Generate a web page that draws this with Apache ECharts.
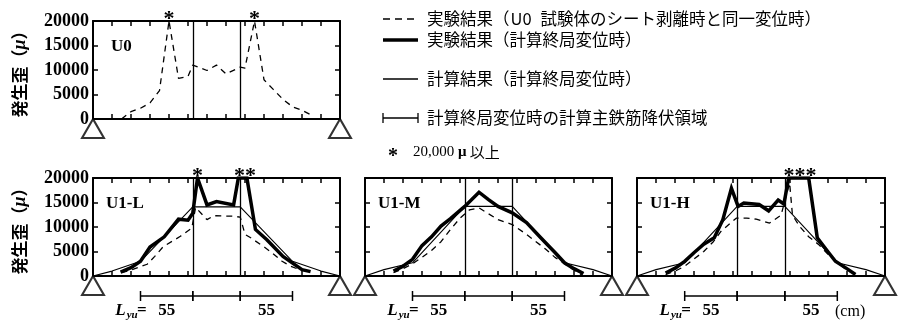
<!DOCTYPE html>
<html><head><meta charset="utf-8">
<script src="https://cdn.jsdelivr.net/npm/echarts@6/dist/echarts.min.js"></script>
<style>html,body{margin:0;padding:0;background:#fff}#c{width:906px;height:325px}</style>
</head><body><div id="c"></div>
<script>
// ---- axis values ----
const SPAN = [0, 260];
const X_INTERVAL = 20;
const Y_TICKS = [0, 5000, 10000, 15000, 20000];
const LOAD_POINTS = [105, 155];
const LYU_MARKS = [50, 105, 155, 210];
const LYU_TEXT = ['55', '', '55'];
const PANEL_NAMES = ['U0', 'U1-L', 'U1-M', 'U1-H'];
const SUPPORTS = [0, 260];

// ---- series values [position cm, strain μ] ----
const U0_exp0 = [[30,0],[40,1500],[50,2200],[60,3300],[70,5800],[80,20000],[90,8300],[100,8700],[105,11000],[120,9900],[130,11000],[140,9200],[155,10600],[160,10400],[170,20000],[180,8000],[190,6000],[200,4000],[210,2500],[220,1800],[230,800]];

const U1L_exp0 = [[30,700],[40,1200],[57,2400],[65,4000],[74,6000],[92,8100],[104,9800],[108,14000],[120,11500],[127,12300],[148,12200],[155,12000],[160,8500],[166,7800],[181,5800],[188,4800],[199,3000],[208,2000],[216,1400],[230,700]];
const U1L_exp  = [[29,800],[40,1700],[50,3000],[60,5900],[75,8000],[90,11600],[100,11400],[105,12800],[110,20000],[120,14500],[130,15200],[148,14500],[153,20000],[162,20000],[171,9500],[183,7400],[200,4000],[220,1300],[229,900]];
const U1L_calc = [[0,0],[20,1000],[50,3000],[105,14100],[155,14100],[210,3000],[240,1000],[260,0]];

const U1M_exp0 = [[30,700],[40,1500],[50,2500],[60,3800],[70,5200],[80,7000],[90,9500],[100,11800],[110,13500],[120,13900],[130,12700],[140,11500],[155,10500],[170,8500],[180,7000],[190,5500],[200,3800],[210,2500],[220,1200],[230,0]];
const U1M_exp  = [[30,1000],[40,2000],[50,3400],[60,6200],[70,8000],[80,10200],[90,11700],[105,14200],[120,17100],[130,15600],[140,14200],[155,12900],[170,10900],[185,7800],[200,4800],[210,2700],[220,1500],[230,500]];
const U1M_calc = [[0,0],[20,1300],[50,2700],[105,14200],[155,14200],[210,2700],[240,1300],[260,0]];

const U1H_exp0 = [[30,300],[40,1000],[50,2000],[60,3500],[70,5000],[80,7000],[88,9100],[104,11800],[115,11800],[125,11600],[139,10800],[151,12400],[160,19000],[163,12400],[171,10000],[180,8000],[190,6500],[200,4500],[210,2800],[220,1200],[230,300]];
const U1H_exp  = [[30,600],[40,1600],[50,3000],[60,4800],[70,6500],[81,7800],[90,11500],[99,17900],[106,14200],[112,14900],[128,14600],[138,13300],[148,15500],[154,14700],[159,20000],[180,20000],[189,7800],[200,5000],[208,3000],[220,1500],[229,300]];
const U1H_calc = [[0,0],[20,1300],[50,2700],[105,14200],[155,14200],[210,2700],[240,1300],[260,0]];

// asterisks: [position cm, mark]
const STAR_U0  = [[80,'*'],[170,'*']];
const STAR_U1L = [[110,'*'],[160,'**']];
const STAR_U1M = [];
const STAR_U1H = [[171,'***']];

const PANELS = [
  {exp0: U0_exp0, exp: null, calc: null, stars: STAR_U0, lyu: false},
  {exp0: U1L_exp0, exp: U1L_exp, calc: U1L_calc, stars: STAR_U1L, lyu: true},
  {exp0: U1M_exp0, exp: U1M_exp, calc: U1M_calc, stars: STAR_U1M, lyu: true},
  {exp0: U1H_exp0, exp: U1H_exp, calc: U1H_calc, stars: STAR_U1H, lyu: true}
];

// ---- layout ----
const GRIDS = [
  {left: 93, top: 21, width: 247, height: 98},
  {left: 93, top: 178, width: 247, height: 98},
  {left: 365, top: 178, width: 247, height: 98},
  {left: 637, top: 178, width: 248, height: 98}
];
const SERIF = '"Liberation Serif", "Times New Roman", serif';
const CJK = '"Noto Sans CJK JP", sans-serif';

const chart = echarts.init(document.getElementById('c'), null, {renderer: 'canvas'});

const xAxes = [], yAxes = [], series = [], titles = [];
GRIDS.forEach((g, i) => {
  const withLabels = (i === 0 || i === 1);
  ['bottom', 'top'].forEach(pos => {
    xAxes.push({gridIndex: i, type: 'value', min: SPAN[0], max: SPAN[1], interval: X_INTERVAL, position: pos,
      axisLine: {show: true, onZero: false, lineStyle: {color: '#000', width: 2}},
      axisTick: {show: true, inside: true, length: 5, lineStyle: {color: '#000', width: 1.5}},
      axisLabel: {show: false}, splitLine: {show: false}});
  });
  ['left', 'right'].forEach(pos => {
    const ax = {gridIndex: i, type: 'value', min: Y_TICKS[0], max: Y_TICKS[Y_TICKS.length - 1],
      interval: Y_TICKS[1] - Y_TICKS[0], position: pos,
      axisLine: {show: true, onZero: false, lineStyle: {color: '#000', width: 2}},
      axisTick: {show: true, inside: true, length: 5, lineStyle: {color: '#000', width: 1.5}},
      axisLabel: {show: withLabels && pos === 'left', margin: 4, color: '#000', fontFamily: SERIF,
        fontWeight: 'bold', fontSize: 18, formatter: v => String(v)},
      splitLine: {show: false}};
    if (withLabels && pos === 'left') {
      ax.name = '{a|発生歪（}{m|μ}{a|）}';
      ax.nameLocation = 'middle';
      ax.nameRotate = 90;
      ax.nameGap = 64;
      ax.nameTextStyle = {rich: {
        a: {fontFamily: CJK, fontWeight: 'bold', fontSize: 17, color: '#000'},
        m: {fontFamily: SERIF, fontWeight: 'bold', fontStyle: 'italic', fontSize: 18, color: '#000'}
      }};
    }
    yAxes.push(ax);
  });
  titles.push({text: PANEL_NAMES[i], left: g.left + (i === 0 ? 13 : 8), top: g.top + 12,
    textStyle: {fontFamily: SERIF, fontWeight: 'bold', fontSize: 17, color: '#000'}});

  const p = PANELS[i];
  const xi = i * 2, yi = i * 2;
  series.push({type: 'line', xAxisIndex: xi, yAxisIndex: yi, data: p.exp0, symbol: 'none', silent: true,
    lineStyle: {color: '#000', width: 1.3, type: [6, 5]}, z: 3,
    markLine: {silent: true, symbol: 'none', label: {show: false},
      lineStyle: {color: '#000', width: 1.3, type: 'solid'},
      data: LOAD_POINTS.map(v => ({xAxis: v}))}});
  if (p.calc) series.push({type: 'line', xAxisIndex: xi, yAxisIndex: yi, data: p.calc, symbol: 'none', silent: true,
    lineStyle: {color: '#000', width: 1.1}, z: 4});
  if (p.exp) series.push({type: 'line', xAxisIndex: xi, yAxisIndex: yi, data: p.exp, symbol: 'none', silent: true,
    lineStyle: {color: '#000', width: 3.5, join: 'miter'}, z: 5});
  // supports
  series.push({type: 'scatter', xAxisIndex: xi, yAxisIndex: yi, clip: false, silent: true, z: 6,
    data: SUPPORTS.map(s => [s, 0]), symbol: 'triangle', symbolSize: [22, 19], symbolOffset: [0, 9.5],
    itemStyle: {color: '#fff', borderColor: '#000', borderWidth: 2}});
  // asterisks
  if (p.stars.length) series.push({type: 'custom', xAxisIndex: xi, yAxisIndex: yi, clip: false, silent: true, z: 7,
    data: p.stars.map(s => [s[0], Y_TICKS[Y_TICKS.length - 1]]),
    renderItem: (params, api) => {
      const pt = api.coord([api.value(0), api.value(1)]);
      return {type: 'text', x: pt[0], y: pt[1] + 9, style: {text: p.stars[params.dataIndex][1],
        font: 'bold 22px ' + SERIF, fill: '#000', align: 'center', verticalAlign: 'bottom'}};
    }});
  // L_yu yield-region bar
  if (p.lyu) {
    const segs = [];
    for (let k = 0; k < LYU_MARKS.length - 1; k++) segs.push([LYU_MARKS[k], LYU_MARKS[k + 1]]);
    series.push({type: 'custom', xAxisIndex: xi, yAxisIndex: yi, clip: false, silent: true, z: 7,
      data: segs,
      renderItem: (params, api) => {
        const k = params.dataIndex;
        const a = api.coord([api.value(0), 0]);
        const b = api.coord([api.value(1), 0]);
        const y = a[1] + 20;
        const st = {stroke: '#000', lineWidth: 1.5};
        const ch = [
          {type: 'line', shape: {x1: a[0], y1: y, x2: b[0], y2: y}, style: st},
          {type: 'line', shape: {x1: a[0], y1: y - 5, x2: a[0], y2: y + 5}, style: st},
          {type: 'line', shape: {x1: b[0], y1: y - 5, x2: b[0], y2: y + 5}, style: st}
        ];
        const mid = (a[0] + b[0]) / 2;
        if (LYU_TEXT[k]) ch.push({type: 'text', x: mid, y: y + 15, style: {text: LYU_TEXT[k],
          font: 'bold 17px ' + SERIF, fill: '#000', align: 'center', verticalAlign: 'middle'}});
        if (k === 0) {
          ch.push({type: 'text', x: mid - 20, y: y + 15, style: {text: '=', font: 'bold 17px ' + SERIF, fill: '#000', align: 'right', verticalAlign: 'middle'}});
          ch.push({type: 'text', x: mid - 29, y: y + 19, style: {text: 'yu', font: 'italic bold 11px ' + SERIF, fill: '#000', align: 'right', verticalAlign: 'middle'}});
          ch.push({type: 'text', x: mid - 41, y: y + 15, style: {text: 'L', font: 'italic bold 17px ' + SERIF, fill: '#000', align: 'right', verticalAlign: 'middle'}});
        }
        return {type: 'group', children: ch};
      }});
  }
});

// legend drawn as graphic
const LX1 = 383, LX2 = 418, TX = 427;
const LEG_FONT = '16.5px ' + CJK;
const legendRows = [
  {y: 19, kind: 'dash', text: '実験結果（{u|U0}試験体のシート剥離時と同一変位時）'},
  {y: 40, kind: 'thick', text: '実験結果（計算終局変位時）'},
  {y: 79, kind: 'thin', text: '計算結果（計算終局変位時）'},
  {y: 118, kind: 'bar', text: '計算終局変位時の計算主鉄筋降伏領域'}
];
const LEG_RICH = {
  u: {fontFamily: CJK, fontSize: 16.5, color: '#000', padding: [0, 9, 0, 1]}
};
const graphic = [];
legendRows.forEach(r => {
  const st = {stroke: '#000', lineWidth: r.kind === 'thick' ? 3.5 : 1.3};
  if (r.kind === 'dash') st.lineDash = [7, 5];
  graphic.push({type: 'line', shape: {x1: LX1, y1: r.y, x2: LX2, y2: r.y}, style: st});
  if (r.kind === 'bar') {
    graphic.push({type: 'line', shape: {x1: LX1, y1: r.y - 5, x2: LX1, y2: r.y + 5}, style: st});
    graphic.push({type: 'line', shape: {x1: LX2, y1: r.y - 5, x2: LX2, y2: r.y + 5}, style: st});
  }
  graphic.push({type: 'text', x: TX, y: r.y, style: {text: r.text, font: LEG_FONT, fill: '#000',
    verticalAlign: 'middle', rich: LEG_RICH}});
});
graphic.push({type: 'text', x: 393, y: 157, style: {text: '*', font: 'bold 20px ' + SERIF, fill: '#000', align: 'center', verticalAlign: 'middle'}});
graphic.push({type: 'text', x: 413, y: 152, style: {text: '{n|20,000 }{m|μ} {c|以上}', verticalAlign: 'middle',
  rich: {n: {font: '15px ' + SERIF, fill: '#000'}, m: {font: 'bold 15px ' + SERIF, fill: '#000'}, c: {font: '15px ' + CJK, fill: '#000'}}}});
graphic.push({type: 'text', x: 835, y: 312, style: {text: '(cm)', font: '16px ' + SERIF, fill: '#000', verticalAlign: 'middle'}});

chart.setOption({
  animation: false,
  backgroundColor: '#fff',
  title: titles,
  grid: GRIDS.map(g => Object.assign({containLabel: false}, g)),
  xAxis: xAxes,
  yAxis: yAxes,
  series: series,
  graphic: graphic
});
</script>
</body></html>
